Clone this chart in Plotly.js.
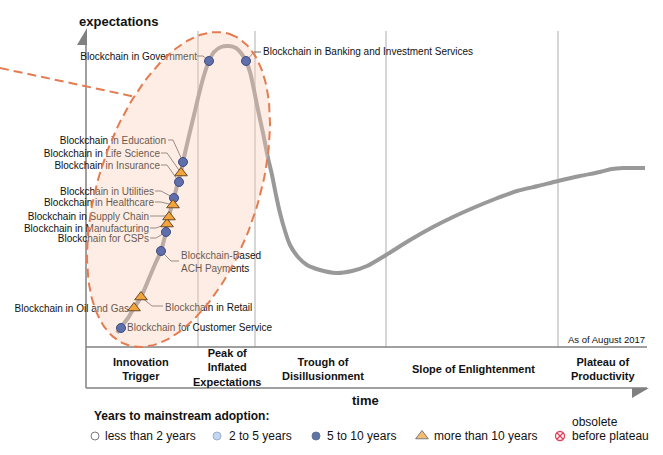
<!DOCTYPE html>
<html>
<head>
<meta charset="utf-8">
<script src="https://cdn.plot.ly/plotly-3.0.1.min.js"></script>
<style>html,body{margin:0;padding:0;background:#fff;}#chart{width:663px;height:455px;}</style>
</head>
<body>
<div id="chart"></div>
<script>
// ---- Hype curve (time position, expectation position; chart units) ----
const curveX = [117,121,128,134,141,150,156,161,164,166,167,169,172,174,178,181,183,188,194,200,205,209,214,221,229,236,241,246,250,254,258,263,268,272,276,280,285,290,298,307,320,336,352,367,386,410,433,453,473,495,517,538,558,580,600,612,623,645];
const curveY = [333,327,318,308,297,276,262,251,240,232,224,216,205,198,182,172,162,140,115,90,72,61,52,47,46,48,53,61,72,90,110,133,158,175,195,213,231,245,257,265,270,273,271,266,255,240,227,217,208,199,191,186,181,176,172,169,168,168];

// ---- Technologies: 5 to 10 years (dots) ----
const dotNames = ["Blockchain for Customer Service","Blockchain-Based ACH Payments","Blockchain for CSPs","Blockchain in Utilities","Blockchain in Insurance","Blockchain in Education","Blockchain in Government","Blockchain in Banking and Investment Services"];
const dotX = [121,161,166,174,179,183,209,246];
const dotY = [328,251,232,198,182,162,61,61];

// ---- Technologies: more than 10 years (triangles) ----
const triNames = ["Blockchain in Oil and Gas","Blockchain in Retail","Blockchain in Manufacturing","Blockchain in Supply Chain","Blockchain in Healthcare","Blockchain in Life Science"];
const triX = [134,141,167,169,173,181];
const triY = [308,297,224,217,205,173];

// ---- Labels drawn to the left of their anchor ----
const leftLabels = ["Blockchain in Government","Blockchain in Education","Blockchain in Life Science","Blockchain in Insurance","Blockchain in Utilities","Blockchain in Healthcare","Blockchain in Supply Chain","Blockchain in Manufacturing","Blockchain for CSPs","Blockchain in Oil and Gas"];
const leftLabelX = [197,166,160,160,154,154,149,149,149,129];
const leftLabelY = [57,141,154,166,192,203,217,229,239,309];

// ---- Labels drawn to the right of their anchor ----
const rightLabels = ["Blockchain in Banking and Investment Services","Blockchain-Based<br>ACH Payments","Blockchain in Retail","Blockchain for Customer Service"];
const rightLabelX = [263,181,165,127];
const rightLabelY = [52,262.5,308,328];

// ---- Leader lines (label end -> marker) ----
const leaderX = [[197,203,209],[246,254,261],[168,173,183],[161,167,181],[161,167,179],[155,161,174],[155,161,173],[150,169],[150,156,167],[150,156,166],[161,171,179],[141,152,163]];
const leaderY = [[56,56,61],[61,52,52],[140,140,162],[153,153,173],[165,165,182],[191,191,198],[202,202,205],[216,216],[228,228,224],[238,238,232],[251,261,261],[297,306,306]];

// ---- Phases ----
const phaseNames = ["Innovation<br>Trigger","Peak of<br>Inflated<br>Expectations","Trough of<br>Disillusionment","Slope of Enlightenment","Plateau of<br>Productivity"];
const phaseX = [141,227,323,473,603];
const phaseY = [369,367,369,369,369];
const phaseBoundX = [198,255,386,558];

// ---- Legend ----
const legendItems = ["less than 2 years","2 to 5 years","5 to 10 years","more than 10 years","before plateau"];
const legendMarkX = [95,217,316,422,560];
const legendTextX = [103,227,325,432,570];

// ---- Highlight ellipse parameters ----
const ell = {cx:178.5, cy:189.5, a:163.7, b:79.9, tiltDeg:18.2};

const FONT = 'Arial, "Liberation Sans", sans-serif';
const ORANGE = 'rgb(228,124,82)';

// ellipse outline
const ex = [], ey = [];
const tr = ell.tiltDeg*Math.PI/180;
const ux = Math.sin(tr), uy = -Math.cos(tr), vx = Math.cos(tr), vy = Math.sin(tr);
for (let i=0;i<=180;i++){
  const t = i/180*2*Math.PI;
  ex.push(ell.cx + ell.a*Math.cos(t)*ux + ell.b*Math.sin(t)*vx);
  ey.push(ell.cy + ell.a*Math.cos(t)*uy + ell.b*Math.sin(t)*vy);
}

// leader lines flattened
const lx = [], ly = [];
leaderX.forEach((xs,i)=>{ xs.forEach((v,j)=>{lx.push(v); ly.push(leaderY[i][j]);}); lx.push(null); ly.push(null); });

const traces = [
  {x:curveX, y:curveY, mode:'lines', line:{color:'#999999', width:4, shape:'spline', smoothing:0.8}, hoverinfo:'skip'},
  {x:lx, y:ly, mode:'lines', line:{color:'#666666', width:1}, hoverinfo:'skip'},
  {x:leftLabelX, y:leftLabelY, text:leftLabels, mode:'text', textposition:'middle left', textfont:{family:FONT,size:10,color:'#111'}, cliponaxis:false, hoverinfo:'skip'},
  {x:rightLabelX, y:rightLabelY, text:rightLabels, mode:'text', textposition:'middle right', textfont:{family:FONT,size:10,color:'#111'}, cliponaxis:false, hoverinfo:'skip'},
  {x:ex, y:ey, mode:'lines', fill:'toself', fillcolor:'rgba(249,205,181,0.36)', line:{color:ORANGE, width:2, dash:'9px,5px'}, hoverinfo:'skip'},
  {x:[0,136], y:[68,97], mode:'lines', line:{color:ORANGE, width:2, dash:'9px,5px'}, hoverinfo:'skip'},
  {x:dotX, y:dotY, text:dotNames, mode:'markers', marker:{symbol:'circle', size:9, color:'#5e6fac', line:{color:'#3e4b80', width:1}}, hoverinfo:'text'},
  {x:triX, y:triY, text:triNames, mode:'markers', marker:{symbol:'triangle-up', size:11, color:'#f2a43a', line:{color:'#6a4a2a', width:1}}, hoverinfo:'text'},
  // legend markers
  {x:legendMarkX.slice(0,4), y:[436,436,436,436], mode:'markers', marker:{symbol:['circle','circle','circle','triangle-up'], size:[8,8,8,11], color:['#ffffff','#aac7ea','#1c3a78','#f0a030'], line:{color:['#444','#6f8fbf','#1c3a78','#444'], width:1}}, hoverinfo:'skip', cliponaxis:false},
  {x:[legendMarkX[4]], y:[436], mode:'markers', marker:{symbol:'circle-x-open', size:9, color:'#e0405a', line:{width:1.3}}, hoverinfo:'skip', cliponaxis:false}
];

const GRAY = '#808080';
const shapes = [];
phaseBoundX.forEach(x=>shapes.push({type:'line', xref:'x', yref:'y', x0:x, x1:x, y0:31, y1:347, line:{color:'#d6d6d6', width:2}, layer:'below'}));
shapes.push({type:'line', xref:'x', yref:'y', x0:86, x1:86, y0:44, y1:388, line:{color:GRAY, width:1.5}, layer:'below'});
shapes.push({type:'line', xref:'x', yref:'y', x0:86, x1:647, y0:347, y1:347, line:{color:GRAY, width:1.5}, layer:'below'});
shapes.push({type:'line', xref:'x', yref:'y', x0:86, x1:647, y0:388, y1:388, line:{color:GRAY, width:1.5}, layer:'below'});
shapes.push({type:'path', xref:'x', yref:'y', path:'M 77 45 L 87 28 L 87 45 Z', fillcolor:GRAY, line:{width:0}, layer:'below'});
shapes.push({type:'path', xref:'x', yref:'y', path:'M 632 388 L 649 388 L 632 398 Z', fillcolor:GRAY, line:{width:0}, layer:'below'});

const annotations = [];
const ann = (text,x,y,opts)=>Object.assign({text, x, y, xref:'x', yref:'y', showarrow:false, xanchor:'center', yanchor:'middle', font:{family:FONT,size:12,color:'#111'}}, opts||{});
annotations.push(ann('<b>expectations</b>',77,21,{xanchor:'left', font:{family:FONT,size:13,color:'#111'}}));
annotations.push(ann('<b>time</b>',365,400,{font:{family:FONT,size:13,color:'#111'}}));
phaseNames.forEach((p,i)=>annotations.push(ann('<b>'+p+'</b>',phaseX[i],phaseY[i],{font:{family:FONT,size:11,color:'#111'}})));
annotations.push(ann('As of August 2017',647,339,{xanchor:'right', font:{family:FONT,size:9.5,color:'#111'}}));
annotations.push(ann('<b>Years to mainstream adoption:</b>',92,416,{xanchor:'left', font:{family:FONT,size:12,color:'#111'}}));
legendItems.forEach((t,i)=>annotations.push(ann(t,legendTextX[i],436,{xanchor:'left'})));
annotations.push(ann('obsolete',legendTextX[4],422,{xanchor:'left'}));

const layout = {
  width:663, height:455,
  margin:{l:0,r:0,t:0,b:0,pad:0},
  paper_bgcolor:'#ffffff', plot_bgcolor:'#ffffff',
  showlegend:false,
  xaxis:{range:[0,663], visible:false, fixedrange:true},
  yaxis:{range:[455,0], visible:false, fixedrange:true},
  shapes, annotations,
  font:{family:FONT}
};

Plotly.newPlot('chart', traces, layout, {displayModeBar:false, staticPlot:true});
</script>
</body>
</html>
